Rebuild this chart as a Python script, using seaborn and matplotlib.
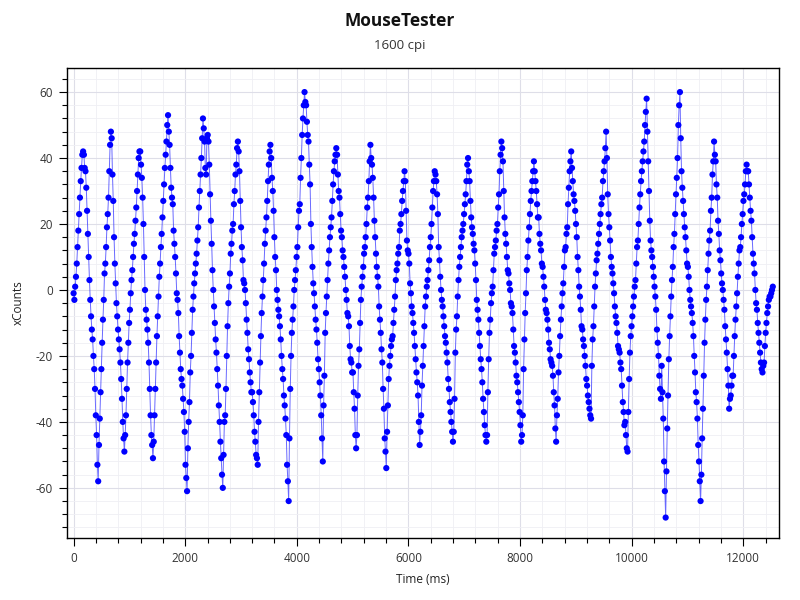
import numpy as np
import pandas as pd
import matplotlib
matplotlib.use("Agg")
import matplotlib.pyplot as plt
import seaborn as sns
from matplotlib.ticker import MultipleLocator

xcounts_a = [  # ~0 - 1.75 s
    -1, -3, 1, 4, 8, 13, 18, 23, 28, 33, 37, 41, 42,
    41, 37, 36, 31, 24, 17, 10, 3, -3, -8, -12, -15, -20, -24, -30, -38, -44, -53, -58,
    -47, -39, -31, -24, -16, -9, -3, 5, 8, 13, 19, 23, 28, 36, 44, 48,
    46, 35, 27, 16, 8, 2, -4, -8, -12, -15, -18, -22, -27, -33, -40, -45, -49,
    -44, -38, -30, -22, -16, -10, -6, -1, 3, 6, 10, 14, 17, 21, 25, 30, 35, 40, 42,
    42, 38, 34, 28, 20, 10, 0, -6, -9, -12, -16, -22, -30, -38, -44, -47, -51,
    -46, -38, -30, -22, -14, -8, -2, 4, 8, 13, 17, 22, 27, 32, 37, 41, 45, 50, 53,
]
xcounts_b = [  # ~1.75 - 4.15 s
    48, 44, 37, 31, 28, 26, 18, 14, 10, 5, -1, -3, -7, -14, -19, -24, -27, -29, -33, -37, -43, -53, -57, -61,
    -48, -40, -34, -25, -20, -13, -6, -2, 2, 5, 8, 11, 15, 19, 25, 30, 35, 40, 46, 52,
    49, 45, 37, 35, 46, 47, 45, 38, 29, 21, 14, 6, 0, -5, -10, -15, -19, -24, -29, -35, -40, -46, -51, -56, -60,
    -50, -40, -38, -30, -20, -11, -4, 1, 5, 11, 14, 18, 20, 26, 30, 35, 38, 43, 45,
    42, 36, 27, 19, 13, 9, 3, 2, 0, -4, -9, -13, -18, -21, -25, -28, -31, -31, -34, -38, -43, -46, -50, -51, -53,
    -40, -31, -22, -14, -7, -2, 3, 8, 14, 18, 22, 27, 33, 38, 42, 44,
    40, 34, 30, 24, 16, 10, 6, 0, -3, -6, -8, -11, -15, -20, -24, -27, -32, -35, -39, -44, -53, -58, -64,
    -45, -30, -20, -13, -9, -5, 0, 3, 6, 10, 13, 19, 24, 26, 34, 40, 47, 52, 56, 60,
]
xcounts_c = [  # ~4.15 - 7.1 s
    57, 56, 51, 47, 45, 38, 32, 20, 13, 7, 2, -1, -5, -9, -12, -16, -21, -24, -28, -32, -38, -45, -52,
    -35, -26, -13, -7, -2, 3, 8, 12, 16, 19, 22, 27, 32, 36, 39, 41, 43,
    41, 35, 30, 28, 23, 18, 16, 12, 10, 7, 4, 0, -3, -7, -8, -11, -17, -21, -22, -25, -25, -31, -36, -44, -48,
    -44, -32, -23, -18, -10, -3, 1, 4, 7, 11, 13, 16, 20, 25, 28, 33, 39, 44,
    40, 38, 34, 28, 21, 16, 11, 7, 4, 1, -5, -9, -13, -18, -22, -30, -36, -45, -49, -54,
    -43, -35, -27, -23, -20, -17, -15, -14, -10, -6, -2, 3, 6, 8, 11, 13, 18, 20, 23, 27, 30, 33, 36,
    33, 24, 15, 12, 11, 8, 2, -1, -5, -7, -10, -13, -17, -21, -25, -28, -32, -40, -47,
    -43, -38, -29, -23, -17, -11, -5, -2, 1, 3, 6, 9, 13, 16, 20, 25, 30, 33, 36,
    35, 33, 29, 23, 13, 9, 4, 0, -3, -5, -8, -11, -14, -16, -19, -22, -27, -30, -34, -37, -40, -43, -46,
    -43, -33, -19, -12, -8, -2, 3, 7, 10, 13, 16, 18, 20, 23, 26, 29, 33, 38, 40,
]
xcounts_d = [  # ~7.1 - 10.1 s
    36, 33, 27, 22, 19, 17, 14, 12, 8, 3, -3, -6, -9, -13, -17, -21, -24, -28, -33, -37, -41, -44, -46,
    -44, -31, -21, -13, -9, -4, -1, 1, 6, 11, 13, 15, 18, 20, 25, 29, 36, 41, 45,
    43, 39, 30, 22, 17, 14, 10, 6, 5, 2, 0, -4, -5, -7, -12, -17, -19, -22, -26, -28, -31, -34, -37, -41, -46,
    -44, -38, -24, -15, -7, -1, 6, 10, 15, 19, 23, 27, 30, 33, 36, 39,
    36, 33, 30, 26, 22, 22, 17, 14, 12, 8, 7, 4, 1, -3, -6, -7, -9, -12, -16, -18, -21, -22, -23, -26, -31, -35, -42, -46,
    -38, -33, -25, -20, -14, -9, -5, -1, 2, 7, 12, 13, 17, 19, 26, 31, 36, 39, 42,
    37, 33, 29, 27, 24, 20, 16, 10, 6, 1, -2, -6, -11, -12, -15, -17, -20, -23, -27, -29, -32, -34, -36, -38, -39,
    -23, -15, -11, -5, 1, 5, 9, 11, 14, 17, 20, 23, 26, 28, 33, 36, 39, 43, 48,
    40, 29, 23, 19, 15, 10, 7, 5, 2, -1, -5, -8, -10, -13, -17, -18, -19, -22, -24, -29, -34, -37, -41, -40, -44, -48, -49,
    -37, -27, -19, -14, -11, -8, -5, -2, 1, 3, 8, 13, 15, 20, 25, 29, 33, 36, 39, 42, 45, 50, 54, 58,
]
xcounts_e = [  # ~10.1 - 12.5 s
    48, 39, 30, 21, 15, 12, 10, 7, 4, 1, -2, -6, -12, -16, -20, -26, -30, -33, -23, -31, -39, -52, -61, -69,
    -55, -42, -32, -21, -14, -8, -2, 3, 7, 13, 17, 23, 29, 34, 40, 50, 56, 60,
    46, 36, 31, 27, 23, 19, 16, 12, 8, 7, 4, 0, -3, -5, -7, -10, -14, -20, -25, -31, -34, -39, -47, -52, -58, -64,
    -56, -45, -36, -26, -16, -9, -3, 1, 6, 11, 15, 18, 24, 28, 35, 39, 45,
    41, 39, 32, 28, 21, 17, 12, 9, 5, 2, 0, -3, -6, -11, -15, -19, -24, -29, -36,
    -33, -32, -29, -26, -26, -20, -14, -9, -5, -1, 4, 8, 12, 13, 16, 20, 23, 27, 29, 32, 36, 38,
    36, 36, 32, 28, 24, 21, 16, 11, 8, 5, 0, -4, -6, -10, -13, -16, -19, -22, -24, -25,
    -23, -22, -17, -13, -10, -7, -5, -3, -2, -2, -1, 0, 1,
]
FIRST_SAMPLE_MS = 0
LAST_SAMPLE_MS = 12530

TITLE = "MouseTester"
SUBTITLE = "1600 cpi"
X_LABEL = "Time (ms)"
Y_LABEL = "xCounts"

xcounts = xcounts_a + xcounts_b + xcounts_c + xcounts_d + xcounts_e
time_ms = np.linspace(FIRST_SAMPLE_MS, LAST_SAMPLE_MS, len(xcounts))
df = pd.DataFrame({X_LABEL: time_ms, Y_LABEL: xcounts})

# ---- style ----
sns.set_theme(style="white")
plt.rcParams['font.family'] = ['Open Sans', 'DejaVu Sans']
plt.rcParams['axes.unicode_minus'] = False

fig = plt.figure(figsize=(8, 6), dpi=100)
ax = fig.add_axes([67 / 800, 62 / 600, 712 / 800, 470 / 600])

sns.lineplot(data=df, x=X_LABEL, y=Y_LABEL, ax=ax, color='#2a2aff', linewidth=0.7,
             alpha=0.7, sort=False, estimator=None, zorder=2)
sns.scatterplot(data=df, x=X_LABEL, y=Y_LABEL, ax=ax, color='#0000ff', s=20,
                edgecolor='none', linewidth=0, zorder=3)

ax.set_xlim(-118, 12641)
ax.set_ylim(-75.2, 67.3)
ax.xaxis.set_major_locator(MultipleLocator(2000))
ax.xaxis.set_minor_locator(MultipleLocator(400))
ax.yaxis.set_major_locator(MultipleLocator(20))
ax.yaxis.set_minor_locator(MultipleLocator(4))

ax.set_axisbelow(True)
ax.grid(which='major', color='#dedee8', linewidth=0.8)
ax.grid(which='minor', color='#efeff4', linewidth=0.6)

for sp in ax.spines.values():
    sp.set_color('black')
    sp.set_linewidth(1.0)

ax.tick_params(which='both', bottom=True, left=True, top=False, right=False,
               direction='out', color='black')
ax.tick_params(which='major', length=6, width=0.8, labelsize=8.5, labelcolor='#333333', pad=4)
ax.tick_params(which='minor', length=3.5, width=0.8)

ax.set_xlabel(X_LABEL, fontsize=8.5, color='#222222', labelpad=6)
ax.set_ylabel(Y_LABEL, fontsize=8.5, color='#222222', labelpad=8)

fig.text(0.5, 1 - 21 / 600, TITLE, ha='center', va='center', fontsize=12.5,
         fontweight='bold', color='#111111')
fig.text(0.5, 1 - 45 / 600, SUBTITLE, ha='center', va='center', fontsize=9.5,
         color='#333333')

fig.savefig("out.png", dpi=100)
